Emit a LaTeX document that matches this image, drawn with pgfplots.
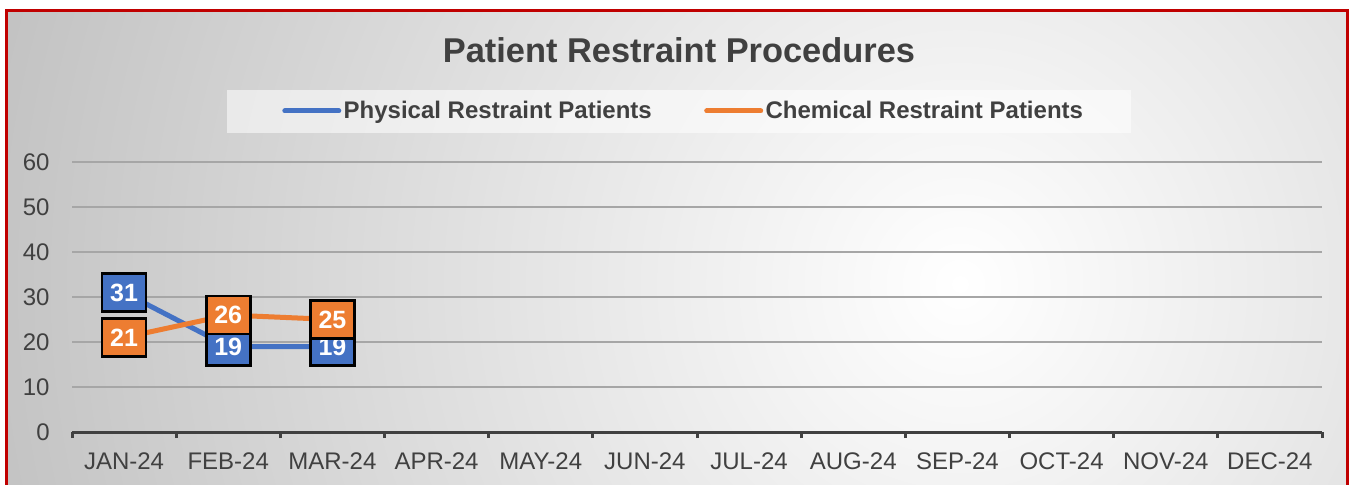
\documentclass[border=0pt]{standalone}
\usepackage{pgfplots}
\pgfplotsset{compat=1.18}
\usepackage{fontspec}
\setmainfont{Liberation Sans}
\definecolor{pblue}{HTML}{4472C4}
\definecolor{porange}{HTML}{ED7D31}
\definecolor{txt}{HTML}{404040}
\definecolor{bord}{HTML}{C00000}
\definecolor{gridc}{HTML}{A6A6A6}
\definecolor{bggray}{HTML}{C2C2C2}
\begin{document}
\begin{tikzpicture}
\path[use as bounding box, clip] (0,0) rectangle (675.5pt,242pt);
\fill[bggray] (3.25pt,-20pt) rectangle (673.75pt,236.75pt);
\begin{scope}
\clip (3.25pt,-20pt) rectangle (673.75pt,236.75pt);
\shade[inner color=white, outer color=bggray] (480pt,100pt) circle (500pt);
\end{scope}
\draw[bord, line width=1.6pt] (3.25pt,-20pt) rectangle (673.75pt,236.75pt);
\fill[white, opacity=0.55] (113.5pt,175.5pt) rectangle (565.5pt,197pt);
\node[text=txt, font=\bfseries\fontsize{17.2}{20}\selectfont] at (339.5pt,217pt) {Patient Restraint Procedures};
\begin{axis}[
  at={(36pt,26pt)}, anchor=south west,
  scale only axis, width=625pt, height=135pt,
  xmin=-0.5, xmax=11.5, ymin=0, ymax=60,
  clip=false,
  /pgf/number format/assume math mode=true,
  axis x line*=bottom, axis y line*=left,
  y axis line style={draw=none},
  x axis line style={line width=1.5pt, draw=txt},
  xtick={0,...,11},
  xticklabels={JAN-24,FEB-24,MAR-24,APR-24,MAY-24,JUN-24,JUL-24,AUG-24,SEP-24,OCT-24,NOV-24,DEC-24},
  minor xtick={-0.5,0.5,...,11.5},
  ytick={0,10,...,60},
  major tick length=0pt,
  minor tick length=3pt,
  tick align=outside,
  minor tick style={line width=1.5pt, draw=txt},
  ymajorgrids,
  grid style={line width=0.6pt, draw=gridc},
  tick label style={font=\fontsize{12}{14}\selectfont, text=txt},
  yticklabel style={inner sep=0pt, xshift=-11pt},
  xticklabel style={inner sep=0pt, yshift=-10pt},
  legend style={at={(0.4895,1.189)}, anchor=center, draw=none, fill=none,
    legend columns=2, font=\bfseries\fontsize{12}{14}\selectfont, text=txt,
    /tikz/every even column/.append style={column sep=25pt},
    nodes={inner sep=1.2pt}},
  legend image code/.code={\draw[#1, line width=2.5pt, line cap=round] (0pt,0pt) -- (27pt,0pt);},
  nodes near coords,
  nodes near coords align={center},
]
\addplot[pblue, line width=2.5pt, no marks,
  every node near coord/.append style={anchor=center, fill=pblue, draw=black, line width=1.3pt,
    minimum width=22pt, minimum height=19pt, inner sep=0pt, text=white,
    font=\bfseries\fontsize{12.5}{14}\selectfont}]
  coordinates {(0,31) (1,19) (2,19)};
\addlegendentry{Physical Restraint Patients}
\addplot[porange, line width=2.5pt, no marks,
  every node near coord/.append style={anchor=center, fill=porange, draw=black, line width=1.3pt,
    minimum width=22pt, minimum height=19pt, inner sep=0pt, text=white,
    font=\bfseries\fontsize{12.5}{14}\selectfont}]
  coordinates {(0,21) (1,26) (2,25)};
\addlegendentry{Chemical Restraint Patients}
\end{axis}
\end{tikzpicture}
\end{document}
